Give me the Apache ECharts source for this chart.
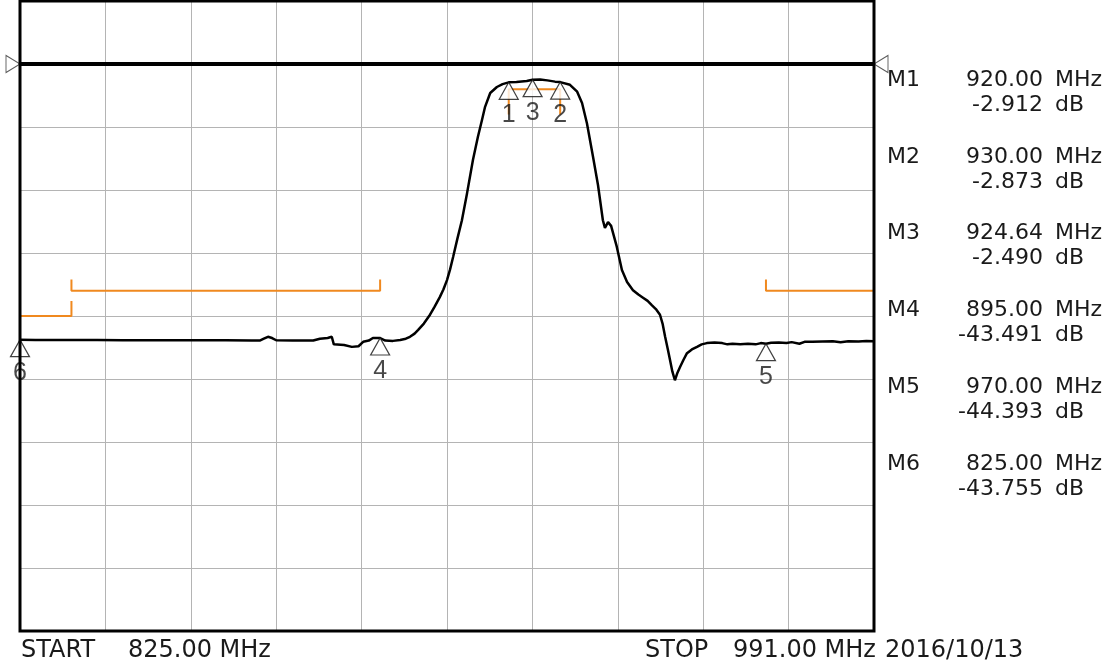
<!DOCTYPE html>
<html>
<head>
<meta charset="utf-8">
<script src="https://cdn.jsdelivr.net/npm/echarts@6/dist/echarts.min.js"></script>
<style>
  html, body { margin: 0; padding: 0; background: #fff; }
  #chart { width: 1115px; height: 666px; }
</style>
</head>
<body>
<div id="chart"></div>
<script>
// sweep: 825 - 991 MHz, 10 dB/div, ref 0 dB
const startMHz = 825;
const stopMHz = 991;
const refDb = 0;
const topDb = 10;
const bottomDb = -90;

// measured trace (MHz, dB)
const freqMHz = [
  825, 828, 832, 836, 840, 845, 850, 855, 860, 865, 870, 871.7, 872.4, 873.2, 874.0, 874.8,
  878, 882, 883.3, 884.8, 885.6, 886.0, 888, 889.5, 890.8, 891.7, 892.8, 893.6, 895, 896,
  897.5, 898.9, 900, 900.8, 901.7, 902.4, 903.5, 904.7, 905.6, 906.6, 907.3, 908.0, 908.6,
  909.2, 910.0, 910.9, 911.9, 913.05, 914.0, 914.8, 915.4, 916.4, 917.7, 918.8, 920, 921.5,
  923.5, 924.64, 926.1, 927.5, 929, 930, 931.9, 933.3, 934.25, 935.2, 936.4, 937.35, 938.3,
  938.7, 939.3, 939.9, 941.0, 942.0, 943.0, 944.15, 945.2, 946.1, 947.0, 947.85, 948.6,
  949.4, 949.9, 950.4, 950.9, 951.35, 951.8, 952.3, 952.8, 953.3, 954.0, 954.65, 955.6,
  956.6, 957.5, 958.5, 960, 961.5, 962.5, 963.5, 965, 966.5, 968, 969, 970, 971, 972.5,
  974, 975, 976.5, 977.5, 979, 981, 983, 984.5, 986, 988, 989.5, 991
];
const traceDb = [
  -43.76, -43.8, -43.8, -43.82, -43.82, -43.85, -43.85, -43.85, -43.85, -43.85, -43.87, -43.87, -43.6, -43.3, -43.5, -43.85,
  -43.9, -43.9, -43.6, -43.5, -43.3, -44.5, -44.6, -44.9, -44.8, -44.1, -43.9, -43.5, -43.491, -43.9,
  -43.95, -43.8, -43.6, -43.3, -42.8, -42.2, -41.2, -39.8, -38.5, -37.0, -35.8, -34.3, -32.6,
  -30.6, -27.8, -24.8, -20.5, -15.2, -11.6, -8.9, -6.8, -4.6, -3.65, -3.2, -2.912, -2.85,
  -2.7, -2.49, -2.45, -2.6, -2.8, -2.873, -3.3, -4.4, -6.2, -9.4, -14.8, -19.2, -24.8,
  -26.0, -25.1, -25.7, -29.0, -32.7, -34.6, -35.9, -36.6, -37.1, -37.6, -38.3, -38.9,
  -39.8, -41.2, -43.3, -45.2, -47.0, -48.8, -50.2, -49.0, -48.1, -46.9, -45.9, -45.3,
  -44.9, -44.5, -44.3, -44.2, -44.3, -44.5, -44.4, -44.5, -44.4, -44.5, -44.3, -44.393, -44.25, -44.2,
  -44.3, -44.15, -44.4, -44.1, -44.1, -44.05, -44.0, -44.15, -44.0, -44.05, -43.95, -44.0
];

// limit line segments (tick lengths in dB at each end)
const limitStart = [825, 835, 920, 970];
const limitStop = [835, 895, 930, 991];
const limitDb = [-40, -36, -4, -36];
const limitTickStart = [0, 1.8, -4, 1.8];
const limitTickStop = [2.4, 1.8, -4, 0];

// markers
const markerName = ['1', '2', '3', '4', '5', '6'];
const markerFreq = [920.00, 930.00, 924.64, 895.00, 970.00, 825.00];
const markerDb = [-2.912, -2.873, -2.490, -43.491, -44.393, -43.755];

const chart = echarts.init(document.getElementById('chart'));

const trace = freqMHz.map((f, i) => [f, traceDb[i]]);

const limitSeries = limitStart.map((s, i) => ({
  type: 'line',
  showSymbol: false,
  silent: true,
  z: 3,
  lineStyle: { color: '#f0891f', width: 2 },
  data: [
    [s, limitDb[i] + limitTickStart[i]],
    [s, limitDb[i]],
    [limitStop[i], limitDb[i]],
    [limitStop[i], limitDb[i] + limitTickStop[i]]
  ]
}));

const panelFont = '22px "DejaVu Sans"';
const panel = [];
markerName.forEach((m, i) => {
  const y = 80 + i * 76.8;
  panel.push({ type: 'text', x: 887, y: y, style: { text: 'M' + m, font: panelFont, fill: '#1a1a1a', verticalAlign: 'middle' } });
  panel.push({ type: 'text', x: 1043, y: y, style: { text: markerFreq[i].toFixed(2), font: panelFont, fill: '#1a1a1a', align: 'right', verticalAlign: 'middle' } });
  panel.push({ type: 'text', x: 1055, y: y, style: { text: 'MHz', font: panelFont, fill: '#1a1a1a', verticalAlign: 'middle' } });
  panel.push({ type: 'text', x: 1043, y: y + 25, style: { text: markerDb[i].toFixed(3), font: panelFont, fill: '#1a1a1a', align: 'right', verticalAlign: 'middle' } });
  panel.push({ type: 'text', x: 1055, y: y + 25, style: { text: 'dB', font: panelFont, fill: '#1a1a1a', verticalAlign: 'middle' } });
});

const footFont = '24px "DejaVu Sans"';
const footer = [
  ['START', 21],
  [startMHz.toFixed(2) + ' MHz', 128],
  ['STOP', 645],
  [stopMHz.toFixed(2) + ' MHz', 733],
  ['2016/10/13', 885]
].map(([t, x]) => ({ type: 'text', x: x, y: 651, style: { text: t, font: footFont, fill: '#1a1a1a', verticalAlign: 'middle' } }));

const hidden = { axisLine: { show: false }, axisTick: { show: false }, axisLabel: { show: false } };

const option = {
  animation: false,
  backgroundColor: '#fff',
  grid: { left: 20, right: 241, top: 1, bottom: 35 },
  xAxis: [
    { type: 'value', min: startMHz, max: stopMHz, ...hidden, splitLine: { show: false } },
    {
      // 10 divisions helper axis for the graticule
      type: 'value', min: 0, max: 10, interval: 1, position: 'top', ...hidden,
      splitLine: { show: true, lineStyle: { color: '#b4b4b4', width: 1 } }
    }
  ],
  yAxis: {
    type: 'value', min: bottomDb, max: topDb, interval: 10, ...hidden,
    splitLine: { show: true, lineStyle: { color: '#b4b4b4', width: 1 } }
  },
  series: [
    {
      name: 'ref',
      type: 'line',
      showSymbol: false,
      silent: true,
      z: 2,
      lineStyle: { color: '#000', width: 4 },
      data: [[startMHz, refDb], [stopMHz, refDb]]
    },
    ...limitSeries,
    {
      name: 'S21',
      type: 'line',
      showSymbol: false,
      silent: true,
      z: 4,
      lineStyle: { color: '#000', width: 2.5 },
      data: trace
    },
    {
      name: 'refMark',
      type: 'scatter',
      silent: true,
      clip: false,
      z: 5,
      symbol: 'triangle',
      symbolSize: [17, 14],
      itemStyle: { color: '#fff', borderColor: '#333', borderWidth: 1 },
      data: [
        { value: [startMHz, refDb], symbolRotate: -90, symbolOffset: [-7, 0] },
        { value: [stopMHz, refDb], symbolRotate: 90, symbolOffset: [7, 0] }
      ]
    },
    {
      name: 'markers',
      type: 'scatter',
      silent: true,
      clip: false,
      z: 6,
      symbol: 'triangle',
      symbolSize: [19, 17],
      symbolOffset: [0, 8.5],
      itemStyle: { color: '#fff', borderColor: '#111', borderWidth: 1.2 },
      label: {
        show: true,
        position: 'bottom',
        distance: 3,
        color: '#1a1a1a',
        fontSize: 25,
        fontFamily: 'Liberation Sans',
        formatter: p => p.value[2]
      },
      data: markerFreq.map((f, i) => [f, markerDb[i], markerName[i]])
    }
  ],
  graphic: [...panel, ...footer]
};

chart.setOption(option);

// frame around the graticule
const tl = chart.convertToPixel({ xAxisIndex: 0, yAxisIndex: 0 }, [startMHz, topDb]);
const br = chart.convertToPixel({ xAxisIndex: 0, yAxisIndex: 0 }, [stopMHz, bottomDb]);
chart.setOption({
  graphic: [...panel, ...footer, {
    type: 'rect',
    z: 100,
    silent: true,
    shape: { x: tl[0], y: tl[1], width: br[0] - tl[0], height: br[1] - tl[1] },
    style: { fill: 'none', stroke: '#000', lineWidth: 3 }
  }]
});

window.addEventListener('resize', () => chart.resize());
</script>
</body>
</html>
